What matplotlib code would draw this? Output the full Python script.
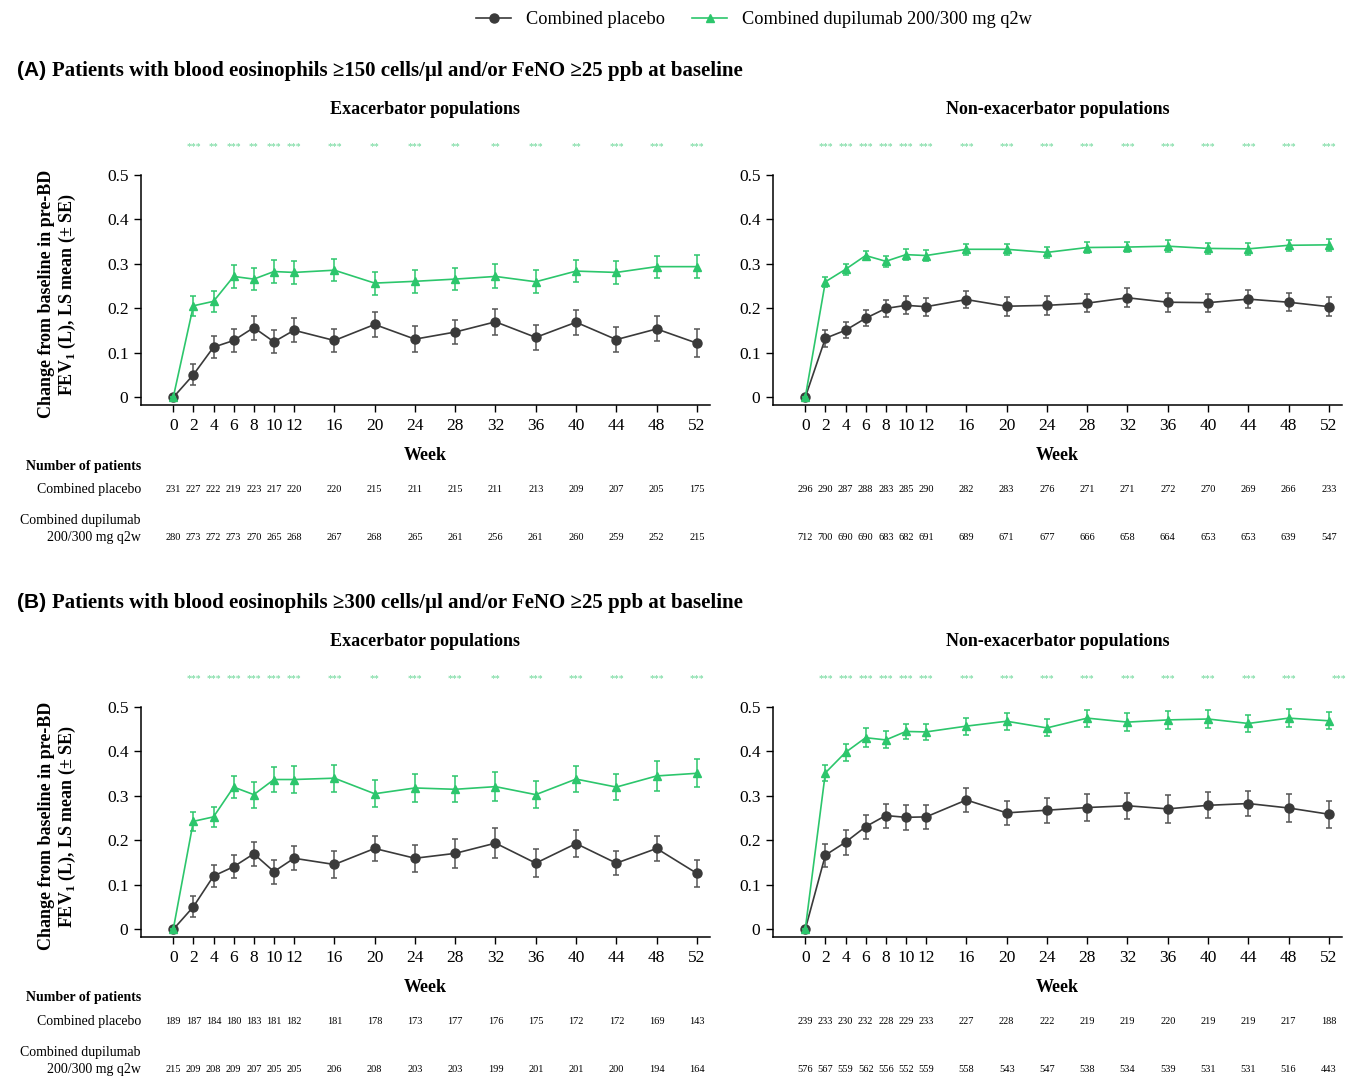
import matplotlib
matplotlib.use('Agg')
import matplotlib.pyplot as plt
from matplotlib.transforms import blended_transform_factory
from matplotlib.lines import Line2D

plt.rcParams['font.family'] = ['Liberation Serif', 'DejaVu Serif']
plt.rcParams['mathtext.fontset'] = 'custom'
plt.rcParams['mathtext.rm'] = 'Liberation Serif'
plt.rcParams['mathtext.bf'] = 'Liberation Serif:bold'

weeks = [0, 2, 4, 6, 8, 10, 12, 16, 20, 24, 28, 32, 36, 40, 44, 48, 52]

# (A) eos >=150 and/or FeNO >=25, exacerbators
a_exac_pbo = [0, 0.051, 0.113, 0.128, 0.157, 0.125, 0.151, 0.128, 0.164, 0.131, 0.147, 0.170, 0.135, 0.169, 0.130, 0.154, 0.122]
a_exac_pbo_se = [0, 0.024, 0.025, 0.026, 0.027, 0.026, 0.027, 0.026, 0.029, 0.029, 0.028, 0.029, 0.028, 0.028, 0.028, 0.028, 0.031]
a_exac_dup = [0, 0.206, 0.216, 0.272, 0.266, 0.283, 0.281, 0.286, 0.257, 0.261, 0.266, 0.272, 0.260, 0.284, 0.281, 0.294, 0.294]
a_exac_dup_se = [0, 0.022, 0.023, 0.025, 0.025, 0.025, 0.025, 0.025, 0.026, 0.026, 0.025, 0.027, 0.026, 0.025, 0.025, 0.025, 0.026]
a_exac_stars = ['***', '**', '***', '**', '***', '***', '***', '**', '***', '**', '**', '***', '**', '***', '***', '***']
a_exac_n_pbo = [231, 227, 222, 219, 223, 217, 220, 220, 215, 211, 215, 211, 213, 209, 207, 205, 175]
a_exac_n_dup = [280, 273, 272, 273, 270, 265, 268, 267, 268, 265, 261, 256, 261, 260, 259, 252, 215]

# (A) non-exacerbators
a_non_pbo = [0, 0.133, 0.151, 0.178, 0.200, 0.207, 0.204, 0.220, 0.205, 0.207, 0.212, 0.224, 0.214, 0.213, 0.221, 0.214, 0.204]
a_non_pbo_se = [0, 0.019, 0.018, 0.018, 0.020, 0.020, 0.020, 0.020, 0.021, 0.021, 0.021, 0.021, 0.021, 0.020, 0.020, 0.020, 0.021]
a_non_dup = [0, 0.260, 0.288, 0.319, 0.306, 0.321, 0.319, 0.333, 0.333, 0.326, 0.337, 0.338, 0.340, 0.335, 0.334, 0.342, 0.343]
a_non_dup_se = [0, 0.011, 0.012, 0.011, 0.012, 0.013, 0.012, 0.012, 0.012, 0.013, 0.013, 0.012, 0.013, 0.013, 0.013, 0.013, 0.014]
a_non_stars = ['***'] * 16
a_non_n_pbo = [296, 290, 287, 288, 283, 285, 290, 282, 283, 276, 271, 271, 272, 270, 269, 266, 233]
a_non_n_dup = [712, 700, 690, 690, 683, 682, 691, 689, 671, 677, 666, 658, 664, 653, 653, 639, 547]

# (B) eos >=300 and/or FeNO >=25, exacerbators
b_exac_pbo = [0, 0.051, 0.120, 0.141, 0.170, 0.130, 0.160, 0.146, 0.182, 0.160, 0.171, 0.194, 0.149, 0.193, 0.149, 0.182, 0.126]
b_exac_pbo_se = [0, 0.024, 0.024, 0.026, 0.027, 0.027, 0.027, 0.030, 0.028, 0.030, 0.033, 0.033, 0.032, 0.031, 0.027, 0.028, 0.030]
b_exac_dup = [0, 0.243, 0.253, 0.320, 0.303, 0.337, 0.337, 0.340, 0.305, 0.318, 0.315, 0.321, 0.303, 0.338, 0.320, 0.345, 0.351]
b_exac_dup_se = [0, 0.022, 0.022, 0.024, 0.029, 0.029, 0.030, 0.030, 0.030, 0.031, 0.029, 0.033, 0.031, 0.030, 0.030, 0.033, 0.031]
b_exac_stars = ['***', '***', '***', '***', '***', '***', '***', '**', '***', '***', '**', '***', '***', '***', '***', '***']
b_exac_n_pbo = [189, 187, 184, 180, 183, 181, 182, 181, 178, 173, 177, 176, 175, 172, 172, 169, 143]
b_exac_n_dup = [215, 209, 208, 209, 207, 205, 205, 206, 208, 203, 203, 199, 201, 201, 200, 194, 164]

# (B) non-exacerbators
b_non_pbo = [0, 0.167, 0.196, 0.231, 0.256, 0.252, 0.253, 0.291, 0.262, 0.268, 0.274, 0.278, 0.271, 0.279, 0.283, 0.273, 0.259]
b_non_pbo_se = [0, 0.026, 0.028, 0.027, 0.027, 0.028, 0.027, 0.027, 0.027, 0.028, 0.030, 0.029, 0.031, 0.029, 0.028, 0.031, 0.030]
b_non_dup = [0, 0.352, 0.398, 0.431, 0.426, 0.445, 0.444, 0.457, 0.468, 0.453, 0.475, 0.466, 0.471, 0.473, 0.463, 0.475, 0.469]
b_non_dup_se = [0, 0.018, 0.019, 0.022, 0.019, 0.016, 0.018, 0.019, 0.019, 0.019, 0.019, 0.020, 0.020, 0.021, 0.020, 0.021, 0.019]
b_non_stars = ['***'] * 16
b_non_n_pbo = [239, 233, 230, 232, 228, 229, 233, 227, 228, 222, 219, 219, 220, 219, 219, 217, 188]
b_non_n_dup = [576, 567, 559, 562, 556, 552, 559, 558, 543, 547, 538, 534, 539, 531, 531, 516, 443]

PBO = '#3a3a3a'
DUP = '#2cc66c'
STAR = '#66d694'
W, H = 1353, 1077

fig = plt.figure(figsize=(W / 100, H / 100), dpi=100)


def fx(px):
    return px / W


def fy(py):
    return 1 - py / H


def panel(x0, ybot, pbo, pbo_se, dup, dup_se, stars, n_pbo, n_dup, subtitle,
          sub_y, star_y, week_y, n1_y, n2_y, last_star_shift=0.0):
    ax = fig.add_axes([fx(x0), fy(ybot), fx(569), 230 / H])
    ax.errorbar(weeks, pbo, yerr=pbo_se, color=PBO, ecolor='#555555', lw=1.2,
                marker='o', ms=6.5, capsize=2.5, elinewidth=1.1, capthick=1.1, zorder=3)
    ax.errorbar(weeks, dup, yerr=dup_se, color=DUP, ecolor=DUP, lw=1.2,
                marker='^', ms=6, capsize=2.5, elinewidth=1.1, capthick=1.1, zorder=4)
    ax.set_xlim(-3.2, 53.3)
    ax.set_ylim(-0.017, 0.5)
    ax.set_xticks(weeks)
    ax.set_xticklabels([str(w) for w in weeks], fontsize=12.5)
    ax.set_yticks([0, 0.1, 0.2, 0.3, 0.4, 0.5])
    ax.set_yticklabels(['0', '0.1', '0.2', '0.3', '0.4', '0.5'], fontsize=12.5)
    ax.tick_params(direction='out', length=5, width=1, pad=4)
    for s in ['top', 'right']:
        ax.spines[s].set_visible(False)
    for s in ['left', 'bottom']:
        ax.spines[s].set_linewidth(1.1)
    tr = blended_transform_factory(ax.transData, fig.transFigure)
    tra = blended_transform_factory(ax.transAxes, fig.transFigure)
    ax.text(0.5, fy(sub_y), subtitle, transform=tra, ha='center', va='center',
            fontsize=13, fontweight='bold')
    for i, s in enumerate(stars):
        xw = weeks[i + 1] + (last_star_shift if i == len(stars) - 1 else 0)
        ax.text(xw, fy(star_y), s, transform=tr, ha='center', va='center',
                fontsize=7, color=STAR)
    ax.text(0.5, fy(week_y), 'Week', transform=tra, ha='center', va='center',
            fontsize=13, fontweight='bold')
    for w, a, b in zip(weeks, n_pbo, n_dup):
        ax.text(w, fy(n1_y), str(a), transform=tr, ha='center', va='center', fontsize=7.5)
        ax.text(w, fy(n2_y), str(b), transform=tr, ha='center', va='center', fontsize=7.5)
    return ax


def row(off, label, tag, datasets):
    fig.text(fx(17), fy(71 + off), tag, family='Liberation Sans', fontweight='bold',
             fontsize=15, ha='left', va='center')
    fig.text(fx(52), fy(71 + off), label, fontweight='bold', fontsize=15,
             ha='left', va='center')
    panel(141, 405 + off, *datasets[0], 'Exacerbator populations',
          109 + off, 147 + off, 456 + off, 490 + off, 538 + off)
    panel(773, 405 + off, *datasets[1], 'Non-exacerbator populations',
          109 + off, 147 + off, 456 + off, 490 + off, 538 + off,
          last_star_shift=1.0 if off else 0.0)
    fig.text(fx(58), fy(294 + off),
             'Change from baseline in pre-BD\nFEV$_\\mathbf{1}$ (L), LS mean (\u00b1 SE)',
             rotation=90, ha='center', va='center', multialignment='center',
             fontsize=13, fontweight='bold', linespacing=1.15)
    fig.text(fx(141), fy(466 + off), 'Number of patients', ha='right', va='center',
             fontsize=10, fontweight='bold')
    fig.text(fx(141), fy(490 + off), 'Combined placebo', ha='right', va='center', fontsize=10)
    fig.text(fx(141), fy(529 + off), 'Combined dupilumab\n200/300 mg q2w', ha='right',
             va='center', fontsize=10, multialignment='right', linespacing=1.35)


row(0, 'Patients with blood eosinophils \u2265150 cells/\u00b5l and/or FeNO \u226525 ppb at baseline', '(A)',
    [(a_exac_pbo, a_exac_pbo_se, a_exac_dup, a_exac_dup_se, a_exac_stars, a_exac_n_pbo, a_exac_n_dup),
     (a_non_pbo, a_non_pbo_se, a_non_dup, a_non_dup_se, a_non_stars, a_non_n_pbo, a_non_n_dup)])
row(532, 'Patients with blood eosinophils \u2265300 cells/\u00b5l and/or FeNO \u226525 ppb at baseline', '(B)',
    [(b_exac_pbo, b_exac_pbo_se, b_exac_dup, b_exac_dup_se, b_exac_stars, b_exac_n_pbo, b_exac_n_dup),
     (b_non_pbo, b_non_pbo_se, b_non_dup, b_non_dup_se, b_non_stars, b_non_n_pbo, b_non_n_dup)])

handles = [Line2D([], [], color=PBO, marker='o', ms=6.5, lw=1.2),
           Line2D([], [], color=DUP, marker='^', ms=6, lw=1.2)]
fig.legend(handles, ['Combined placebo', 'Combined dupilumab 200/300 mg q2w'],
           loc='center', bbox_to_anchor=(fx(754), fy(20)), ncol=2, frameon=False,
           fontsize=13.2, handlelength=1.9, handletextpad=0.8, columnspacing=1.5)

fig.savefig('out.png', dpi=100)
